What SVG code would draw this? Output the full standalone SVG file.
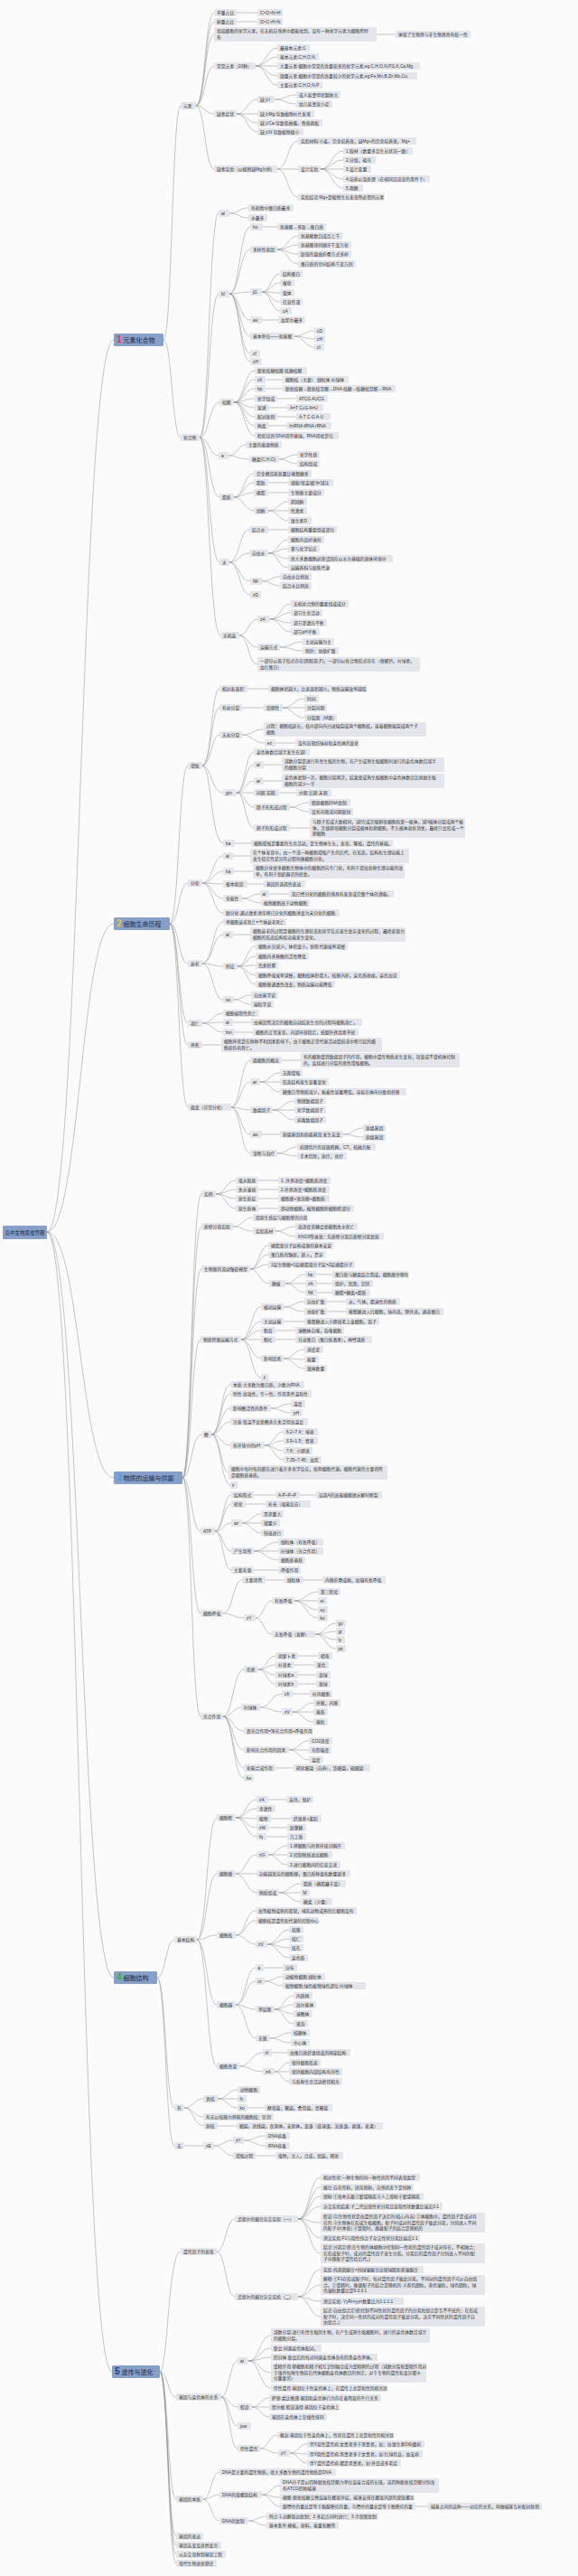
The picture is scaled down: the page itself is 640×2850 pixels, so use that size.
<svg xmlns="http://www.w3.org/2000/svg" width="640" height="2850" viewBox="0 0 640 2850">
<style>
.bg{fill:#fbfbfc}
#conn path{fill:none;stroke:#8e8e8e;stroke-width:0.5}
.nodes rect{fill:#e4e6ec;rx:1.2px}
.nodes text{font-family:"Liberation Sans","Noto Sans CJK SC",sans-serif;font-size:4.8px;fill:#333}
.nodes rect.s{fill:#86a0c8;rx:1.5px}
.nodes text.st{font-size:7px;fill:#1c2b4a}
.nodes text.rt{font-size:5.5px;fill:#1c2b4a}
.num{font-size:10px;font-weight:bold}
</style>
<rect class="bg" x="0" y="0" width="640" height="2850"/>
<g id="conn">
<path d="M52 1363C89 1363 89 376 126 376"/><path d="M52 1363C89 1363 89 1022 126 1022"/><path d="M52 1363C89 1363 89 1635 126 1635"/><path d="M52 1363C89 1363 89 2188 126 2188"/><path d="M52 1363C88 1363 88 2624 124 2624"/>
<path d="M181 376C190.5 376 190.5 117 200 117"/><path d="M181 376C190.5 376 190.5 484 200 484"/>
<path d="M217 117C227 117 227 14 237 14"/><path d="M217 117C227 117 227 24 237 24"/><path d="M217 117C227 117 227 38 237 38"/><path d="M217 117C227 117 227 73 237 73"/><path d="M217 117C227 117 227 126 237 126"/><path d="M217 117C227 117 227 187 237 187"/>
<path d="M262 14H285"/><path d="M262 24H285"/><path d="M417 38H438"/>
<path d="M283 73C295 73 295 53 307 53"/><path d="M283 73C295 73 295 63 307 63"/><path d="M283 73H307"/><path d="M283 73C295 73 295 84 307 84"/><path d="M283 73C295 73 295 94 307 94"/>
<path d="M262 126C273.5 126 273.5 110 285 110"/><path d="M262 126H285"/><path d="M262 126C273.5 126 273.5 136 285 136"/><path d="M262 126C273.5 126 273.5 146 285 146"/>
<path d="M304 110C316 110 316 105 328 105"/><path d="M304 110C316 110 316 115 328 115"/>
<path d="M307 187C318.5 187 318.5 156 330 156"/><path d="M307 187H330"/><path d="M307 187C318.5 187 318.5 218 330 218"/>
<path d="M355 187C367.5 187 367.5 167 380 167"/><path d="M355 187C367.5 187 367.5 177 380 177"/><path d="M355 187H380"/><path d="M355 187C367.5 187 367.5 198 380 198"/><path d="M355 187C367.5 187 367.5 208 380 208"/>
<path d="M221 484C231.5 484 231.5 236 242 236"/><path d="M221 484C231.5 484 231.5 325 242 325"/><path d="M221 484C231.5 484 231.5 445 243 445"/><path d="M221 484C231.5 484 231.5 504 242 504"/><path d="M221 484C231.5 484 231.5 550 243 550"/><path d="M221 484C231.5 484 231.5 622 243 622"/><path d="M221 484C231.5 484 231.5 703 244 703"/>
<path d="M254 236C264.5 236 264.5 230 275 230"/><path d="M254 236C264.5 236 264.5 241 275 241"/>
<path d="M254 325C265.5 325 265.5 251 277 251"/><path d="M254 325C265.5 325 265.5 276 277 276"/><path d="M254 325C265.5 325 265.5 323 277 323"/><path d="M254 325C265.5 325 265.5 354 277 354"/><path d="M254 325C265.5 325 265.5 372 277 372"/><path d="M254 325C265.5 325 265.5 391 277 391"/><path d="M254 325C265.5 325 265.5 400 277 400"/>
<path d="M291 251H307"/>
<path d="M307 276C318.5 276 318.5 261 330 261"/><path d="M307 276C318.5 276 318.5 271 330 271"/><path d="M307 276C318.5 276 318.5 281 330 281"/><path d="M307 276C318.5 276 318.5 292 330 292"/>
<path d="M290 323C300 323 300 303 310 303"/><path d="M290 323C300 323 300 313 310 313"/><path d="M290 323C300 323 300 324 310 324"/><path d="M290 323C300 323 300 334 310 334"/><path d="M290 323C300 323 300 344 310 344"/>
<path d="M290 354H308"/>
<path d="M326 372C337 372 337 366 348 366"/><path d="M326 372C337 372 337 375 348 375"/><path d="M326 372C337 372 337 384 348 384"/>
<path d="M259 445C270.5 445 270.5 410 282 410"/><path d="M259 445C270.5 445 270.5 420 282 420"/><path d="M259 445C270.5 445 270.5 430 282 430"/><path d="M259 445C270.5 445 270.5 441 282 441"/><path d="M259 445C270.5 445 270.5 451 282 451"/><path d="M259 445C270.5 445 270.5 461 282 461"/><path d="M259 445C270.5 445 270.5 471 282 471"/><path d="M259 445C270.5 445 270.5 482 282 482"/>
<path d="M294 420H313"/><path d="M294 430H313"/><path d="M307 441H328"/><path d="M298 451H318"/><path d="M307 461H328"/><path d="M298 471H317"/>
<path d="M253 504C263 504 263 492 272 492"/><path d="M253 504C263 504 263 508 276 508"/>
<path d="M309 508C319 508 319 503 329 503"/><path d="M309 508C319 508 319 513 329 513"/>
<path d="M259 550C270 550 270 524 281 524"/><path d="M259 550C270 550 270 534 281 534"/><path d="M259 550C270 550 270 545 281 545"/><path d="M259 550C270 550 270 565 281 565"/>
<path d="M297 534H319"/><path d="M297 545H319"/>
<path d="M297 565C308 565 308 555 319 555"/><path d="M297 565H319"/><path d="M297 565C308 565 308 576 319 576"/>
<path d="M254 622C265 622 265 586 276 586"/><path d="M254 622C265 622 265 612 276 612"/><path d="M254 622C265 622 265 643 277 643"/><path d="M254 622C265 622 265 658 277 658"/>
<path d="M297 586H319"/>
<path d="M297 612C308 612 308 597 319 597"/><path d="M297 612C308 612 308 607 319 607"/><path d="M297 612C308 612 308 618 319 618"/><path d="M297 612C308 612 308 628 319 628"/>
<path d="M290 643C300 643 300 638 310 638"/><path d="M290 643C300 643 300 648 310 648"/>
<path d="M265 703C275 703 275 685 285 685"/><path d="M265 703C275 703 275 716 285 716"/><path d="M265 703C275 703 275 735 285 735"/>
<path d="M299 685C310.5 685 310.5 668 322 668"/><path d="M299 685C310.5 685 310.5 678 322 678"/><path d="M299 685C310.5 685 310.5 689 322 689"/><path d="M299 685C310.5 685 310.5 699 322 699"/>
<path d="M310 716C322.5 716 322.5 710 335 710"/><path d="M310 716C322.5 716 322.5 720 335 720"/>
<path d="M188 1022C198 1022 198 847 208 847"/><path d="M188 1022C198 1022 198 977 208 977"/><path d="M188 1022C198 1022 198 1066 208 1066"/><path d="M188 1022C198 1022 198 1132 208 1132"/><path d="M188 1022C198 1022 198 1156 208 1156"/><path d="M188 1022C198 1022 198 1225 208 1225"/>
<path d="M224 847C234 847 234 762 243 762"/><path d="M224 847C234 847 234 783 243 783"/><path d="M224 847C234 847 234 813 243 813"/><path d="M224 847C234 847 234 877 247 877"/><path d="M224 847C234 847 234 933 247 933"/>
<path d="M274 762H297"/><path d="M268 783H292"/>
<path d="M313 783C325 783 325 773 337 773"/><path d="M313 783H337"/><path d="M313 783C325 783 325 794 337 794"/>
<path d="M268 813C280 813 280 807 292 807"/><path d="M268 813C280 813 280 822 293 822"/><path d="M305 822H327"/>
<path d="M262 877C271.5 877 271.5 832 281 832"/><path d="M262 877C271.5 877 271.5 846 281 846"/><path d="M262 877C271.5 877 271.5 864 281 864"/><path d="M262 877H281"/><path d="M262 877C271.5 877 271.5 893 281 893"/><path d="M262 877C271.5 877 271.5 916 281 916"/>
<path d="M292 846H312"/><path d="M292 864H312"/><path d="M309 877H328"/>
<path d="M321 893C331.5 893 331.5 888 342 888"/><path d="M321 893C331.5 893 331.5 898 342 898"/><path d="M321 916H343"/><path d="M260 933H278"/>
<path d="M224 977C235.5 977 235.5 947 247 947"/><path d="M224 977C235.5 977 235.5 964 247 964"/><path d="M224 977C235.5 977 235.5 978 247 978"/><path d="M224 977C235.5 977 235.5 994 247 994"/><path d="M224 977C235.5 977 235.5 1010 247 1010"/>
<path d="M258 947H277"/><path d="M259 964H280"/><path d="M274 978H292"/>
<path d="M268 994C278 994 278 989 288 989"/><path d="M268 994C278 994 278 999 289 999"/><path d="M298 989H320"/>
<path d="M224 1066C235.5 1066 235.5 1020 247 1020"/><path d="M224 1066C235.5 1066 235.5 1034 247 1034"/><path d="M224 1066C235.5 1066 235.5 1069 247 1069"/><path d="M224 1066C235.5 1066 235.5 1106 247 1106"/>
<path d="M258 1034H277"/>
<path d="M263 1069C273 1069 273 1047 283 1047"/><path d="M263 1069C273 1069 273 1058 283 1058"/><path d="M263 1069C273 1069 273 1068 283 1068"/><path d="M263 1069C273 1069 273 1079 283 1079"/><path d="M263 1069C273 1069 273 1089 283 1089"/>
<path d="M259 1106C268.5 1106 268.5 1101 278 1101"/><path d="M259 1106C268.5 1106 268.5 1111 278 1111"/>
<path d="M224 1132C235.5 1132 235.5 1121 247 1121"/><path d="M224 1132C235.5 1132 235.5 1131 247 1131"/><path d="M224 1132C235.5 1132 235.5 1142 247 1142"/>
<path d="M258 1131H278"/><path d="M260 1142H280"/><path d="M224 1156H245"/>
<path d="M256 1225C266.5 1225 266.5 1173 277 1173"/><path d="M256 1225C266.5 1225 266.5 1197 277 1197"/><path d="M256 1225C266.5 1225 266.5 1228 277 1228"/><path d="M256 1225C266.5 1225 266.5 1255 277 1255"/><path d="M256 1225C266.5 1225 266.5 1276 277 1276"/>
<path d="M312 1173H333"/>
<path d="M288 1197C299 1197 299 1187 310 1187"/><path d="M288 1197H310"/><path d="M288 1197C299 1197 299 1208 310 1208"/>
<path d="M302 1228C314 1228 314 1218 326 1218"/><path d="M302 1228H326"/><path d="M302 1228C314 1228 314 1239 326 1239"/>
<path d="M290 1255H310"/><path d="M380 1255C391 1255 391 1248 402 1248"/><path d="M380 1255C391 1255 391 1258 402 1258"/>
<path d="M307 1276C318 1276 318 1269 329 1269"/><path d="M307 1276C318 1276 318 1279 329 1279"/>
<path d="M202 1635C212 1635 212 1321 223 1321"/><path d="M202 1635C212 1635 212 1357 223 1357"/><path d="M202 1635C212 1635 212 1404 223 1404"/><path d="M202 1635C212 1635 212 1482 222 1482"/><path d="M202 1635C212 1635 212 1587 223 1587"/><path d="M202 1635C212 1635 212 1694 222 1694"/><path d="M202 1635C212 1635 212 1785 222 1785"/><path d="M202 1635C212 1635 212 1899 222 1899"/>
<path d="M239 1321C250 1321 250 1306 261 1306"/><path d="M239 1321C250 1321 250 1316 261 1316"/><path d="M239 1321C250 1321 250 1326 261 1326"/><path d="M239 1321C250 1321 250 1337 261 1337"/>
<path d="M286 1306H308"/><path d="M286 1316H308"/><path d="M286 1326H308"/><path d="M286 1337H308"/>
<path d="M258 1357C269 1357 269 1347 280 1347"/><path d="M258 1357C269 1357 269 1362 280 1362"/>
<path d="M305 1362C316 1362 316 1357 327 1357"/><path d="M305 1362C316 1362 316 1368 327 1368"/>
<path d="M277 1404C287 1404 287 1378 297 1378"/><path d="M277 1404C287 1404 287 1388 297 1388"/><path d="M277 1404C287 1404 287 1399 297 1399"/><path d="M277 1404C287 1404 287 1420 298 1420"/>
<path d="M316 1420C327 1420 327 1410 338 1410"/><path d="M316 1420H338"/><path d="M316 1420C327 1420 327 1430 338 1430"/>
<path d="M350 1410H368"/><path d="M351 1420H368"/><path d="M351 1430H368"/>
<path d="M267 1482C278 1482 278 1446 289 1446"/><path d="M267 1482C278 1482 278 1462 289 1462"/><path d="M267 1482C278 1482 278 1472 289 1472"/><path d="M267 1482H289"/><path d="M267 1482C278 1482 278 1503 289 1503"/><path d="M267 1482C278 1482 278 1524 289 1524"/>
<path d="M314 1446C325.5 1446 325.5 1440 337 1440"/><path d="M314 1446C325.5 1446 325.5 1451 337 1451"/>
<path d="M362 1440H383"/><path d="M362 1451H383"/><path d="M314 1462H337"/><path d="M305 1472H327"/><path d="M305 1482H327"/>
<path d="M314 1503C325.5 1503 325.5 1493 337 1493"/><path d="M314 1503C325.5 1503 325.5 1504 337 1504"/><path d="M314 1503C325.5 1503 325.5 1514 337 1514"/>
<path d="M234 1587C244.5 1587 244.5 1532 255 1532"/><path d="M234 1587C244.5 1587 244.5 1542 255 1542"/><path d="M234 1587C244.5 1587 244.5 1558 255 1558"/><path d="M234 1587C244.5 1587 244.5 1573 255 1573"/><path d="M234 1587C244.5 1587 244.5 1599 255 1599"/><path d="M234 1587C244.5 1587 244.5 1629 253 1629"/><path d="M234 1587C244.5 1587 244.5 1643 255 1643"/>
<path d="M300 1558C311 1558 311 1553 322 1553"/><path d="M300 1558C311 1558 311 1563 322 1563"/>
<path d="M293 1599C303.5 1599 303.5 1584 314 1584"/><path d="M293 1599C303.5 1599 303.5 1594 314 1594"/><path d="M293 1599C303.5 1599 303.5 1605 314 1605"/><path d="M293 1599C303.5 1599 303.5 1615 314 1615"/>
<path d="M238 1694C247 1694 247 1654 256 1654"/><path d="M238 1694C247 1694 247 1664 256 1664"/><path d="M238 1694C247 1694 247 1685 256 1685"/><path d="M238 1694C247 1694 247 1716 256 1716"/><path d="M238 1694C247 1694 247 1737 256 1737"/>
<path d="M281 1654H305"/><path d="M332 1654H350"/><path d="M272 1664H294"/>
<path d="M268 1685C278.5 1685 278.5 1675 289 1675"/><path d="M268 1685H289"/><path d="M268 1685C278.5 1685 278.5 1696 289 1696"/>
<path d="M281 1716C294.5 1716 294.5 1706 308 1706"/><path d="M281 1716H308"/><path d="M281 1716C294.5 1716 294.5 1726 308 1726"/><path d="M281 1737H308"/>
<path d="M247 1785C258 1785 258 1748 268 1748"/><path d="M247 1785C258 1785 258 1790 270 1790"/>
<path d="M294 1748H315"/><path d="M336 1748H357"/>
<path d="M283 1790C292 1790 292 1771 301 1771"/><path d="M283 1790C292 1790 292 1808 301 1808"/>
<path d="M326 1771C339 1771 339 1761 352 1761"/><path d="M326 1771H352"/><path d="M326 1771C339 1771 339 1781 352 1781"/><path d="M326 1771C339 1771 339 1790 352 1790"/>
<path d="M349 1808C360.5 1808 360.5 1796 372 1796"/><path d="M349 1808C360.5 1808 360.5 1805 372 1805"/><path d="M349 1808C360.5 1808 360.5 1814 372 1814"/><path d="M349 1808C360.5 1808 360.5 1824 372 1824"/>
<path d="M247 1899C258 1899 258 1847 270 1847"/><path d="M247 1899C258 1899 258 1889 267 1889"/><path d="M247 1899C258 1899 258 1915 270 1915"/><path d="M247 1899C258 1899 258 1936 270 1936"/><path d="M247 1899C258 1899 258 1956 270 1956"/><path d="M247 1899C258 1899 258 1967 270 1967"/>
<path d="M286 1847C295.5 1847 295.5 1832 305 1832"/><path d="M286 1847C295.5 1847 295.5 1842 305 1842"/><path d="M286 1847C295.5 1847 295.5 1853 305 1853"/><path d="M286 1847C295.5 1847 295.5 1863 305 1863"/>
<path d="M330 1832H352"/><path d="M326 1842H348"/><path d="M330 1853H350"/><path d="M330 1863H350"/>
<path d="M288 1889C300 1889 300 1874 312 1874"/><path d="M288 1889C300 1889 300 1894 312 1894"/><path d="M324 1874H343"/>
<path d="M324 1894C335.5 1894 335.5 1884 347 1884"/><path d="M324 1894H347"/><path d="M324 1894C335.5 1894 335.5 1905 347 1905"/>
<path d="M320 1936C331 1936 331 1926 342 1926"/><path d="M320 1936H342"/><path d="M320 1936C331 1936 331 1947 342 1947"/><path d="M305 1956H325"/>
<path d="M174 2188C183.5 2188 183.5 2146 193 2146"/><path d="M174 2188C183.5 2188 183.5 2332 193 2332"/><path d="M174 2188C183.5 2188 183.5 2374 193 2374"/>
<path d="M218 2146C229 2146 229 2011 240 2011"/><path d="M218 2146C229 2146 229 2073 240 2073"/><path d="M218 2146C229 2146 229 2141 240 2141"/><path d="M218 2146C229 2146 229 2218 240 2218"/><path d="M218 2146C229 2146 229 2286 240 2286"/>
<path d="M261 2011C272.5 2011 272.5 1991 284 1991"/><path d="M261 2011C272.5 2011 272.5 2001 284 2001"/><path d="M261 2011C272.5 2011 272.5 2012 284 2012"/><path d="M261 2011C272.5 2011 272.5 2022 284 2022"/><path d="M261 2011C272.5 2011 272.5 2032 284 2032"/>
<path d="M297 1991H317"/><path d="M300 2012H322"/><path d="M297 2022H318"/><path d="M295 2032H318"/>
<path d="M261 2073C272.5 2073 272.5 2052 284 2052"/><path d="M261 2073H284"/><path d="M261 2073C272.5 2073 272.5 2094 284 2094"/>
<path d="M297 2052C307.5 2052 307.5 2042 318 2042"/><path d="M297 2052H318"/><path d="M297 2052C307.5 2052 307.5 2063 318 2063"/>
<path d="M309 2094C321 2094 321 2084 333 2084"/><path d="M309 2094H333"/><path d="M309 2094C321 2094 321 2104 333 2104"/>
<path d="M261 2141C272 2141 272 2114 283 2114"/><path d="M261 2141C272 2141 272 2125 283 2125"/><path d="M261 2141C272 2141 272 2151 283 2151"/>
<path d="M296 2151C308 2151 308 2135 320 2135"/><path d="M296 2151C308 2151 308 2145 320 2145"/><path d="M296 2151C308 2151 308 2155 320 2155"/><path d="M296 2151C308 2151 308 2166 320 2166"/>
<path d="M261 2218C272 2218 272 2177 283 2177"/><path d="M261 2218C272 2218 272 2192 283 2192"/><path d="M261 2218C272 2218 272 2223 283 2223"/><path d="M261 2218C272 2218 272 2255 283 2255"/>
<path d="M292 2177H313"/>
<path d="M293 2192C303 2192 303 2187 313 2187"/><path d="M293 2192C303 2192 303 2197 313 2197"/>
<path d="M304 2223C314.5 2223 314.5 2208 325 2208"/><path d="M304 2223C314.5 2223 314.5 2218 325 2218"/><path d="M304 2223C314.5 2223 314.5 2228 325 2228"/><path d="M304 2223C314.5 2223 314.5 2239 325 2239"/>
<path d="M299 2255C310.5 2255 310.5 2249 322 2249"/><path d="M299 2255C310.5 2255 310.5 2260 322 2260"/>
<path d="M265 2286C278 2286 278 2271 291 2271"/><path d="M265 2286C278 2286 278 2292 291 2292"/><path d="M301 2271H318"/>
<path d="M304 2292C312 2292 312 2282 320 2282"/><path d="M304 2292H320"/><path d="M304 2292C312 2292 312 2303 320 2303"/>
<path d="M204 2332C214.5 2332 214.5 2322 225 2322"/><path d="M204 2332C214.5 2332 214.5 2342 225 2342"/><path d="M204 2332C214.5 2332 214.5 2352 225 2352"/>
<path d="M241 2322C252 2322 252 2312 263 2312"/><path d="M241 2322H263"/><path d="M241 2322C252 2322 252 2332 263 2332"/>
<path d="M274 2332H293"/><path d="M241 2352H262"/><path d="M204 2374H225"/>
<path d="M237 2374C247.5 2374 247.5 2368 258 2368"/><path d="M237 2374C247.5 2374 247.5 2385 258 2385"/>
<path d="M270 2368C282 2368 282 2363 294 2363"/><path d="M270 2368C282 2368 282 2374 294 2374"/><path d="M283 2385H305"/>
<path d="M177 2624C186 2624 186 2491 200 2491"/><path d="M177 2624C186 2624 186 2652 195 2652"/><path d="M177 2624C186 2624 186 2765 195 2765"/><path d="M177 2624C186 2624 186 2806 195 2806"/><path d="M177 2624C186 2624 186 2816 195 2816"/><path d="M177 2624C186 2624 186 2826 195 2826"/><path d="M177 2624C186 2624 186 2836 195 2836"/>
<path d="M240 2491C250 2491 250 2455 260 2455"/><path d="M240 2491C250 2491 250 2541 260 2541"/>
<path d="M330 2455C342.5 2455 342.5 2409 355 2409"/><path d="M330 2455C342.5 2455 342.5 2420 355 2420"/><path d="M330 2455C342.5 2455 342.5 2430 355 2430"/><path d="M330 2455C342.5 2455 342.5 2441 355 2441"/><path d="M330 2455C342.5 2455 342.5 2459 355 2459"/><path d="M330 2455C342.5 2455 342.5 2476 355 2476"/><path d="M330 2455C342.5 2455 342.5 2493 355 2493"/>
<path d="M330 2541C342.5 2541 342.5 2511 355 2511"/><path d="M330 2541C342.5 2541 342.5 2528 355 2528"/><path d="M330 2541C342.5 2541 342.5 2546 355 2546"/><path d="M330 2541C342.5 2541 342.5 2563 355 2563"/>
<path d="M245 2652C254 2652 254 2612 263 2612"/><path d="M245 2652C254 2652 254 2663 263 2663"/><path d="M245 2652C254 2652 254 2684 263 2684"/><path d="M245 2652C254 2652 254 2709 263 2709"/>
<path d="M275 2612C287.5 2612 287.5 2584 300 2584"/><path d="M275 2612C287.5 2612 287.5 2598 300 2598"/><path d="M275 2612C287.5 2612 287.5 2608 300 2608"/><path d="M275 2612C287.5 2612 287.5 2625 300 2625"/><path d="M275 2612C287.5 2612 287.5 2642 300 2642"/>
<path d="M279 2663C288.5 2663 288.5 2653 298 2653"/><path d="M279 2663H298"/><path d="M279 2663C288.5 2663 288.5 2674 298 2674"/>
<path d="M288 2709C297.5 2709 297.5 2694 307 2694"/><path d="M288 2709C297.5 2709 297.5 2714 308 2714"/>
<path d="M321 2714C330.5 2714 330.5 2704 340 2704"/><path d="M321 2714C330.5 2714 330.5 2715 340 2715"/><path d="M321 2714C330.5 2714 330.5 2725 340 2725"/>
<path d="M225 2765C234 2765 234 2735 243 2735"/><path d="M225 2765C234 2765 234 2760 243 2760"/><path d="M225 2765C234 2765 234 2789 243 2789"/>
<path d="M290 2760C300 2760 300 2750 310 2750"/><path d="M290 2760C300 2760 300 2763 310 2763"/><path d="M290 2760C300 2760 300 2773 310 2773"/>
<path d="M460 2773H474"/>
<path d="M275 2789C285 2789 285 2784 295 2784"/><path d="M275 2789C285 2789 285 2794 295 2794"/>
</g>
<g class="nodes">
<g id="root"><rect class="s" x="3" y="1356" width="49" height="15"/><text class="rt" x="5.5" y="1365.5">高中生物思维导图</text></g>
<g id="sec1"><rect class="s" x="126" y="369" width="55" height="14"/><text class="st" x="129" y="379.3"><tspan class="num" fill="#e23b3b">1</tspan><tspan dx="2">元素化合物</tspan></text></g>
<g id="sec2"><rect class="s" x="126" y="1015" width="62" height="14"/><text class="st" x="129" y="1025.3"><tspan class="num" fill="#f2c230">2</tspan><tspan dx="2">细胞生命历程</tspan></text></g>
<g id="sec3"><rect class="s" x="126" y="1628" width="76" height="14"/><text class="st" x="129" y="1638.3"><tspan class="num" fill="#37a7e8">3</tspan><tspan dx="2">物质的运输与供能</tspan></text></g>
<g id="sec4"><rect class="s" x="126" y="2181" width="48" height="14"/><text class="st" x="129" y="2191.3"><tspan class="num" fill="#34b34a">4</tspan><tspan dx="2">细胞结构</tspan></text></g>
<g id="sec5"><rect class="s" x="124" y="2617" width="53" height="14"/><text class="st" x="127" y="2627.3"><tspan class="num" fill="#1f3f7a">5</tspan><tspan dx="2">遗传与进化</tspan></text></g>

<g id="a1"><rect x="200" y="113" width="17" height="8"/><text x="203" y="118.7">元素</text></g>
<g id="a11"><rect x="237" y="10" width="25" height="8"/><text x="240" y="15.7">干重占比</text></g>
<g id="a11c"><rect x="285" y="10" width="28" height="8"/><text x="288" y="15.7">C&gt;O&gt;N&gt;H</text></g>
<g id="a12"><rect x="237" y="20" width="25" height="8"/><text x="240" y="25.7">鲜重占比</text></g>
<g id="a12c"><rect x="285" y="20" width="28" height="8"/><text x="288" y="25.7">O&gt;C&gt;H&gt;N</text></g>
<g id="a13"><rect x="237" y="30" width="180" height="16"/><text x="240" y="36.3">组成细胞的化学元素，在无机自然界中都能找到，没有一种化学元素为细胞所特<tspan x="240" y="42.8">有</tspan></text></g>
<g id="a13c"><rect x="438" y="34" width="83" height="8"/><text x="441" y="39.7">体现了生物界与非生物界具有统一性</text></g>
<g id="a14"><rect x="237" y="69" width="46" height="8"/><text x="240" y="74.7">常见元素（20种）</text></g>
<g id="a141"><rect x="307" y="49" width="36" height="8"/><text x="310" y="54.7">最基本元素:C</text></g>
<g id="a142"><rect x="307" y="59" width="46" height="8"/><text x="310" y="64.7">基本元素:C,H,O,N</text></g>
<g id="a143"><rect x="307" y="69" width="158" height="8"/><text x="310" y="74.7">大量元素:细胞中常见的含量较多的化学元素,eg:C,H,O,N,P,S,K,Ca,Mg.</text></g>
<g id="a144"><rect x="307" y="80" width="155" height="8"/><text x="310" y="85.7">微量元素:细胞中常见的含量较少的化学元素,eg:Fe,Mn,B,Zn,Mo,Cu.</text></g>
<g id="a145"><rect x="307" y="90" width="50" height="8"/><text x="310" y="95.7">主要元素:C,H,O,N,P</text></g>
<g id="a15"><rect x="237" y="122" width="25" height="8"/><text x="240" y="127.7">缺素症状</text></g>
<g id="a151"><rect x="285" y="106" width="19" height="8"/><text x="288" y="111.7">缺少I</text></g>
<g id="a1511"><rect x="328" y="101" width="49" height="8"/><text x="331" y="106.7">成人易患甲状腺肿大</text></g>
<g id="a1512"><rect x="328" y="111" width="40" height="8"/><text x="331" y="116.7">幼儿易患呆小症</text></g>
<g id="a152"><rect x="285" y="122" width="63" height="8"/><text x="288" y="127.7">缺少Mg:导致植物叶片发黄</text></g>
<g id="a153"><rect x="285" y="132" width="72" height="8"/><text x="288" y="137.7">缺少Ca:导致肌抽搐，骨质疏松</text></g>
<g id="a154"><rect x="285" y="142" width="51" height="8"/><text x="288" y="147.7">缺少N:导致植物矮小</text></g>
<g id="a16"><rect x="237" y="183" width="70" height="8"/><text x="240" y="188.7">缺素实验（以植物缺Mg为例）</text></g>
<g id="a161"><rect x="330" y="152" width="131" height="8"/><text x="333" y="157.7">实验材料:小麦，完全培养液，缺Mg+的完全培养液，Mg+</text></g>
<g id="a162"><rect x="330" y="183" width="25" height="8"/><text x="333" y="188.7">设计实验</text></g>
<g id="a1621"><rect x="380" y="163" width="77" height="8"/><text x="383" y="168.7">1.取材（数量多且生长状况一致）</text></g>
<g id="a1622"><rect x="380" y="173" width="36" height="8"/><text x="383" y="178.7">2.分组，编号</text></g>
<g id="a1623"><rect x="380" y="183" width="31" height="8"/><text x="383" y="188.7">3.设计变量</text></g>
<g id="a1624"><rect x="380" y="194" width="96" height="8"/><text x="383" y="199.7">4.培养以及处理（在相同且适宜的条件下）</text></g>
<g id="a1625"><rect x="380" y="204" width="22" height="8"/><text x="383" y="209.7">5.观察</text></g>
<g id="a163"><rect x="330" y="214" width="95" height="8"/><text x="333" y="219.7">实验结论:Mg+是植物生长发育所必需的元素</text></g>

<g id="b0"><rect x="200" y="480" width="21" height="8"/><text x="203" y="485.7">化合物</text></g>
<g id="b1"><rect x="242" y="232" width="12" height="8"/><text x="245" y="237.7">al</text></g>
<g id="b11"><rect x="275" y="226" width="50" height="8"/><text x="278" y="231.7">有机物中蛋白质最多</text></g>
<g id="b12"><rect x="275" y="237" width="21" height="8"/><text x="278" y="242.7">水最多</text></g>
<g id="b2"><rect x="242" y="321" width="12" height="8"/><text x="245" y="326.7">bl</text></g>
<g id="b21"><rect x="277" y="247" width="14" height="8"/><text x="280" y="252.7">ho</text></g>
<g id="b211"><rect x="307" y="247" width="54" height="8"/><text x="310" y="252.7">氨基酸→多肽→蛋白质</text></g>
<g id="b22"><rect x="277" y="272" width="30" height="8"/><text x="280" y="277.7">多样性原因</text></g>
<g id="b221"><rect x="330" y="257" width="49" height="8"/><text x="333" y="262.7">氨基酸数目成百上千</text></g>
<g id="b222"><rect x="330" y="267" width="59" height="8"/><text x="333" y="272.7">氨基酸排列顺序千变万化</text></g>
<g id="b223"><rect x="330" y="277" width="59" height="8"/><text x="333" y="282.7">肽链的盘曲折叠方式多样</text></g>
<g id="b224"><rect x="330" y="288" width="64" height="8"/><text x="333" y="293.7">蛋白质的空间结构千差万别</text></g>
<g id="b23"><rect x="277" y="319" width="13" height="8"/><text x="280" y="324.7">jG</text></g>
<g id="b231"><rect x="310" y="299" width="25" height="8"/><text x="313" y="304.7">结构蛋白</text></g>
<g id="b232"><rect x="310" y="309" width="16" height="8"/><text x="313" y="314.7">催化</text></g>
<g id="b233"><rect x="310" y="320" width="16" height="8"/><text x="313" y="325.7">载体</text></g>
<g id="b234"><rect x="310" y="330" width="25" height="8"/><text x="313" y="335.7">信息传递</text></g>
<g id="b235"><rect x="310" y="340" width="13" height="8"/><text x="313" y="345.7">cA</text></g>
<g id="b24"><rect x="277" y="350" width="13" height="8"/><text x="280" y="355.7">ao</text></g>
<g id="b241"><rect x="308" y="350" width="30" height="8"/><text x="311" y="355.7">血浆中最多</text></g>
<g id="b25"><rect x="277" y="368" width="49" height="8"/><text x="280" y="373.7">基本单位——氨基酸</text></g>
<g id="b251"><rect x="348" y="362" width="12" height="8"/><text x="351" y="367.7">cD</text></g>
<g id="b252"><rect x="348" y="371" width="12" height="8"/><text x="351" y="376.7">cH</text></g>
<g id="b253"><rect x="348" y="380" width="11" height="8"/><text x="351" y="385.7">cI</text></g>
<g id="b26"><rect x="277" y="387" width="11" height="8"/><text x="280" y="392.7">cf</text></g>
<g id="b27"><rect x="277" y="396" width="13" height="8"/><text x="280" y="401.7">cH</text></g>
<g id="b3"><rect x="243" y="441" width="16" height="8"/><text x="246" y="446.7">核酸</text></g>
<g id="b31"><rect x="282" y="406" width="58" height="8"/><text x="285" y="411.7">脱氧核糖核酸 核糖核酸</text></g>
<g id="b32"><rect x="282" y="416" width="12" height="8"/><text x="285" y="421.7">cK</text></g>
<g id="b321"><rect x="313" y="416" width="73" height="8"/><text x="316" y="421.7">细胞核（主要） 线粒体 叶绿体</text></g>
<g id="b33"><rect x="282" y="426" width="12" height="8"/><text x="285" y="431.7">bp</text></g>
<g id="b331"><rect x="313" y="426" width="125" height="8"/><text x="316" y="431.7">脱氧核糖→脱氧核苷酸→DNA 核糖→核糖核苷酸→RNA</text></g>
<g id="b34"><rect x="282" y="437" width="25" height="8"/><text x="285" y="442.7">化学组成</text></g>
<g id="b341"><rect x="328" y="437" width="35" height="8"/><text x="331" y="442.7">ATCG AUCG</text></g>
<g id="b35"><rect x="282" y="447" width="16" height="8"/><text x="285" y="452.7">氢键</text></g>
<g id="b351"><rect x="318" y="447" width="40" height="8"/><text x="321" y="452.7">A=T C≡G A=U</text></g>
<g id="b36"><rect x="282" y="457" width="25" height="8"/><text x="285" y="462.7">配对原则</text></g>
<g id="b361"><rect x="328" y="457" width="38" height="8"/><text x="331" y="462.7">A-T C-G A-U</text></g>
<g id="b37"><rect x="282" y="467" width="16" height="8"/><text x="285" y="472.7">种类</text></g>
<g id="b371"><rect x="317" y="467" width="50" height="8"/><text x="320" y="472.7">/mRNA tRNA rRNA</text></g>
<g id="b38"><rect x="282" y="478" width="93" height="8"/><text x="285" y="483.7">检验试剂:DNA用甲基绿，RNA用吡罗红</text></g>
<g id="b4"><rect x="242" y="500" width="11" height="8"/><text x="245" y="505.7">a</text></g>
<g id="b41"><rect x="272" y="488" width="40" height="8"/><text x="275" y="493.7">主要的能源物质</text></g>
<g id="b42"><rect x="276" y="504" width="33" height="8"/><text x="279" y="509.7">糖类(C,H,O)</text></g>
<g id="b421"><rect x="329" y="499" width="25" height="8"/><text x="332" y="504.7">化学性质</text></g>
<g id="b422"><rect x="329" y="509" width="25" height="8"/><text x="332" y="514.7">结构组成</text></g>
<g id="b5"><rect x="243" y="546" width="16" height="8"/><text x="246" y="551.7">脂质</text></g>
<g id="b51"><rect x="281" y="520" width="64" height="8"/><text x="284" y="525.7">完全燃烧耗氧量比葡萄糖多</text></g>
<g id="b52"><rect x="281" y="530" width="16" height="8"/><text x="284" y="535.7">脂肪</text></g>
<g id="b521"><rect x="319" y="530" width="50" height="8"/><text x="322" y="535.7">储能/保温/缓冲/减压</text></g>
<g id="b53"><rect x="281" y="541" width="16" height="8"/><text x="284" y="546.7">磷脂</text></g>
<g id="b531"><rect x="319" y="541" width="40" height="8"/><text x="322" y="546.7">生物膜主要成分</text></g>
<g id="b54"><rect x="281" y="561" width="16" height="8"/><text x="284" y="566.7">固醇</text></g>
<g id="b541"><rect x="319" y="551" width="21" height="8"/><text x="322" y="556.7">胆固醇</text></g>
<g id="b542"><rect x="319" y="561" width="21" height="8"/><text x="322" y="566.7">性激素</text></g>
<g id="b543"><rect x="319" y="572" width="26" height="8"/><text x="322" y="577.7">维生素D</text></g>
<g id="b6"><rect x="243" y="618" width="11" height="8"/><text x="246" y="623.7">水</text></g>
<g id="b61"><rect x="276" y="582" width="21" height="8"/><text x="279" y="587.7">结合水</text></g>
<g id="b611"><rect x="319" y="582" width="54" height="8"/><text x="322" y="587.7">细胞结构重要组成部分</text></g>
<g id="b62"><rect x="276" y="608" width="21" height="8"/><text x="279" y="613.7">自由水</text></g>
<g id="b621"><rect x="319" y="593" width="40" height="8"/><text x="322" y="598.7">细胞内良好溶剂</text></g>
<g id="b622"><rect x="319" y="603" width="35" height="8"/><text x="322" y="608.7">参与化学反应</text></g>
<g id="b623"><rect x="319" y="614" width="116" height="8"/><text x="322" y="619.7">绝大多数细胞必须浸润在以水为基础的液体环境中</text></g>
<g id="b624"><rect x="319" y="624" width="45" height="8"/><text x="322" y="629.7">运输养料与新陈代谢</text></g>
<g id="b63"><rect x="277" y="639" width="13" height="8"/><text x="280" y="644.7">fW</text></g>
<g id="b631"><rect x="310" y="634" width="35" height="8"/><text x="313" y="639.7">自由水比例高</text></g>
<g id="b632"><rect x="310" y="644" width="35" height="8"/><text x="313" y="649.7">结合水比例高</text></g>
<g id="b64"><rect x="277" y="654" width="12" height="8"/><text x="280" y="659.7">zD</text></g>
<g id="b7"><rect x="244" y="699" width="21" height="8"/><text x="247" y="704.7">无机盐</text></g>
<g id="b71"><rect x="285" y="681" width="14" height="8"/><text x="288" y="686.7">zA</text></g>
<g id="b711"><rect x="322" y="664" width="64" height="8"/><text x="325" y="669.7">无机化合物的重要组成成分</text></g>
<g id="b712"><rect x="322" y="674" width="35" height="8"/><text x="325" y="679.7">调节生命活动</text></g>
<g id="b713"><rect x="322" y="685" width="40" height="8"/><text x="325" y="690.7">调节渗透压平衡</text></g>
<g id="b714"><rect x="322" y="695" width="32" height="8"/><text x="325" y="700.7">调节pH平衡</text></g>
<g id="b72"><rect x="285" y="712" width="25" height="8"/><text x="288" y="717.7">运输方式</text></g>
<g id="b721"><rect x="335" y="706" width="35" height="8"/><text x="338" y="711.7">主动运输为主</text></g>
<g id="b722"><rect x="335" y="716" width="40" height="8"/><text x="338" y="721.7">例外：协助扩散</text></g>
<g id="b73"><rect x="285" y="727" width="180" height="16"/><text x="288" y="733.3">一部分以离子形式存在(阴阳离子)，一部分以化合物形式存在（骨酸钙，叶绿素，<tspan x="288" y="739.8">血红蛋白）</tspan></text></g>

<g id="c1"><rect x="208" y="843" width="16" height="8"/><text x="211" y="848.7">增殖</text></g>
<g id="c11"><rect x="243" y="758" width="31" height="8"/><text x="246" y="763.7">相对表面积</text></g>
<g id="c111"><rect x="297" y="758" width="109" height="8"/><text x="300" y="763.7">细胞体积越大，比表面积越小，物质运输效率越低</text></g>
<g id="c12"><rect x="243" y="779" width="25" height="8"/><text x="246" y="784.7">有丝分裂</text></g>
<g id="c121"><rect x="292" y="779" width="21" height="8"/><text x="295" y="784.7">周期性</text></g>
<g id="c1211"><rect x="337" y="769" width="16" height="8"/><text x="340" y="774.7">时间</text></g>
<g id="c1212"><rect x="337" y="779" width="25" height="8"/><text x="340" y="784.7">分裂间期</text></g>
<g id="c1213"><rect x="337" y="790" width="36" height="8"/><text x="340" y="795.7">分裂期（M期）</text></g>
<g id="c13"><rect x="243" y="809" width="25" height="8"/><text x="246" y="814.7">无丝分裂</text></g>
<g id="c131"><rect x="292" y="799" width="180" height="16"/><text x="295" y="805.3">过程：细胞核延长，核中部向内凹进缢裂成两个细胞核，接着细胞缢裂成两个子<tspan x="295" y="811.8">细胞</tspan></text></g>
<g id="c132"><rect x="293" y="818" width="12" height="8"/><text x="296" y="823.7">ez</text></g>
<g id="c1321"><rect x="327" y="818" width="70" height="8"/><text x="330" y="823.7">没有出现纺锤丝和染色体的变化</text></g>
<g id="c14"><rect x="247" y="873" width="15" height="8"/><text x="250" y="878.7">gm</text></g>
<g id="c141"><rect x="281" y="828" width="62" height="8"/><text x="284" y="833.7">染色体数目减半发生在减I</text></g>
<g id="c142"><rect x="281" y="842" width="11" height="8"/><text x="284" y="847.7">al</text></g>
<g id="c1421"><rect x="312" y="838" width="180" height="16"/><text x="315" y="844.3">减数分裂是进行有性生殖的生物，在产生成熟生殖细胞时进行的染色体数目减半<tspan x="315" y="850.8">的细胞分裂</tspan></text></g>
<g id="c143"><rect x="281" y="860" width="11" height="8"/><text x="284" y="865.7">ar</text></g>
<g id="c1431"><rect x="312" y="856" width="180" height="16"/><text x="315" y="862.3">染色体复制一次，细胞分裂两次，结果使成熟生殖细胞中染色体数目比原始生殖<tspan x="315" y="868.8">细胞的减少一半</tspan></text></g>
<g id="c144"><rect x="281" y="873" width="28" height="8"/><text x="284" y="878.7">间期 前期</text></g>
<g id="c1441"><rect x="328" y="873" width="39" height="8"/><text x="331" y="878.7">中期 后期 末期</text></g>
<g id="c145"><rect x="281" y="889" width="40" height="8"/><text x="284" y="894.7">精子的形成过程</text></g>
<g id="c1451"><rect x="342" y="884" width="46" height="8"/><text x="345" y="889.7">精原细胞DNA复制</text></g>
<g id="c1452"><rect x="342" y="894" width="49" height="8"/><text x="345" y="899.7">没有间期或间期很短</text></g>
<g id="c146"><rect x="281" y="912" width="40" height="8"/><text x="284" y="917.7">卵子的形成过程</text></g>
<g id="c1461"><rect x="343" y="905" width="172" height="22"/><text x="346" y="911.3">与精子形成大致相同，减I完成次级卵母细胞和第一极体，减II极体分裂成两个极<tspan x="346" y="917.8">体，次级卵母细胞分裂成极体和卵细胞，不久极体退化消失，最终只会形成一个</tspan><tspan x="346" y="924.3">卵细胞</tspan></text></g>
<g id="c15"><rect x="247" y="929" width="13" height="8"/><text x="250" y="934.7">ba</text></g>
<g id="c151"><rect x="278" y="929" width="157" height="8"/><text x="281" y="934.7">细胞增殖是重要的生命活动，是生物体生长，发育，繁殖，遗传的基础。</text></g>
<g id="c2"><rect x="208" y="973" width="16" height="8"/><text x="211" y="978.7">分化</text></g>
<g id="c21"><rect x="247" y="943" width="11" height="8"/><text x="250" y="948.7">al</text></g>
<g id="c211"><rect x="277" y="939" width="176" height="16"/><text x="280" y="945.3">在个体发育中，由一个或一种细胞增殖产生的后代，在形态，结构和生理功能上<tspan x="280" y="951.8">发生稳定性差异的过程叫做细胞分化。</tspan></text></g>
<g id="c22"><rect x="247" y="960" width="12" height="8"/><text x="250" y="965.7">ba</text></g>
<g id="c221"><rect x="280" y="956" width="168" height="16"/><text x="283" y="962.3">细胞分化使多细胞生物体中的细胞趋向专门化，有利于提高各种生理功能的效<tspan x="283" y="968.8">率，有利于组织器官的修复。</tspan></text></g>
<g id="c23"><rect x="247" y="974" width="27" height="8"/><text x="250" y="979.7">根本原因</text></g>
<g id="c231"><rect x="292" y="974" width="46" height="8"/><text x="295" y="979.7">基因的选择性表达</text></g>
<g id="c24"><rect x="247" y="990" width="21" height="8"/><text x="250" y="995.7">全能性</text></g>
<g id="c241"><rect x="288" y="985" width="10" height="8"/><text x="290.5" y="990.7">al</text></g>
<g id="c2411"><rect x="320" y="985" width="116" height="8"/><text x="323" y="990.7">指已经分化的细胞仍然具有发育成完整个体的潜能。</text></g>
<g id="c242"><rect x="289" y="995" width="54" height="8"/><text x="292" y="1000.7">植物细胞高于动物细胞</text></g>
<g id="c25"><rect x="247" y="1006" width="129" height="8"/><text x="250" y="1011.7">脱分化:通过激素诱导将已分化的细胞诱变为未分化的细胞</text></g>
<g id="c3"><rect x="208" y="1062" width="16" height="8"/><text x="211" y="1067.7">衰老</text></g>
<g id="c31"><rect x="247" y="1016" width="70" height="8"/><text x="250" y="1021.7">单细胞衰老死亡=个体衰老死亡</text></g>
<g id="c32"><rect x="247" y="1030" width="11" height="8"/><text x="250" y="1035.7">al</text></g>
<g id="c321"><rect x="277" y="1026" width="172" height="16"/><text x="280" y="1032.3">细胞衰老的过程是细胞的生理状态和化学反应发生复杂变化的过程，最终表现为<tspan x="280" y="1038.8">细胞的形态结构和功能发生变化。</tspan></text></g>
<g id="c33"><rect x="247" y="1065" width="16" height="8"/><text x="250" y="1070.7">特征</text></g>
<g id="c331"><rect x="283" y="1043" width="102" height="8"/><text x="286" y="1048.7">细胞水分减少，体积变小，新陈代谢速率减慢</text></g>
<g id="c332"><rect x="283" y="1054" width="59" height="8"/><text x="286" y="1059.7">细胞内多种酶的活性降低</text></g>
<g id="c333"><rect x="283" y="1064" width="25" height="8"/><text x="286" y="1069.7">色素积累</text></g>
<g id="c334"><rect x="283" y="1075" width="160" height="8"/><text x="286" y="1080.7">细胞呼吸速率减慢，细胞核体积增大，核膜内折，染色质收缩，染色加深</text></g>
<g id="c335"><rect x="283" y="1085" width="88" height="8"/><text x="286" y="1090.7">细胞膜通透性改变，物质运输功能降低</text></g>
<g id="c34"><rect x="247" y="1102" width="12" height="8"/><text x="250" y="1107.7">so</text></g>
<g id="c341"><rect x="278" y="1097" width="30" height="8"/><text x="281" y="1102.7">自由基学说</text></g>
<g id="c342"><rect x="278" y="1107" width="25" height="8"/><text x="281" y="1112.7">端粒学说</text></g>
<g id="c4"><rect x="208" y="1128" width="16" height="8"/><text x="211" y="1133.7">凋亡</text></g>
<g id="c41"><rect x="247" y="1117" width="40" height="8"/><text x="250" y="1122.7">细胞编程性死亡</text></g>
<g id="c42"><rect x="247" y="1127" width="11" height="8"/><text x="250" y="1132.7">al</text></g>
<g id="c421"><rect x="278" y="1127" width="123" height="8"/><text x="281" y="1132.7">由基因所决定的细胞自动结束生命的过程叫细胞凋亡。</text></g>
<g id="c43"><rect x="247" y="1138" width="13" height="8"/><text x="250" y="1143.7">bm</text></g>
<g id="c431"><rect x="280" y="1138" width="117" height="8"/><text x="283" y="1143.7">细胞的正常发育，内部环境稳定，抵御外界因素干扰</text></g>
<g id="c5"><rect x="208" y="1152" width="16" height="8"/><text x="211" y="1157.7">坏死</text></g>
<g id="c51"><rect x="245" y="1148" width="178" height="16"/><text x="248" y="1154.3">细胞坏死是在种种不利因素影响下，由于细胞正常代谢活动受损或中断引起的细<tspan x="248" y="1160.8">胞损伤和死亡。</tspan></text></g>
<g id="c6"><rect x="208" y="1221" width="48" height="8"/><text x="211" y="1226.7">癌变（异常分化）</text></g>
<g id="c61"><rect x="277" y="1169" width="35" height="8"/><text x="280" y="1174.7">癌细胞的概念</text></g>
<g id="c611"><rect x="333" y="1165" width="176" height="16"/><text x="336" y="1171.3">有的细胞受到致癌因子的作用，细胞中遗传物质发生变化，就变成不受机体控制<tspan x="336" y="1177.8">的，连续进行分裂的恶性增殖细胞。</tspan></text></g>
<g id="c62"><rect x="277" y="1193" width="11" height="8"/><text x="280" y="1198.7">ar</text></g>
<g id="c621"><rect x="310" y="1183" width="25" height="8"/><text x="313" y="1188.7">无限增殖</text></g>
<g id="c622"><rect x="310" y="1193" width="54" height="8"/><text x="313" y="1198.7">形态结构发生显著变化</text></g>
<g id="c623"><rect x="310" y="1204" width="140" height="8"/><text x="313" y="1209.7">糖蛋白等物质减少，黏着性显著降低，容易在体内分散和转移</text></g>
<g id="c63"><rect x="277" y="1224" width="25" height="8"/><text x="280" y="1229.7">致癌因子</text></g>
<g id="c631"><rect x="326" y="1214" width="35" height="8"/><text x="329" y="1219.7">物理致癌因子</text></g>
<g id="c632"><rect x="326" y="1224" width="35" height="8"/><text x="329" y="1229.7">化学致癌因子</text></g>
<g id="c633"><rect x="326" y="1235" width="35" height="8"/><text x="329" y="1240.7">病毒致癌因子</text></g>
<g id="c64"><rect x="277" y="1251" width="13" height="8"/><text x="280" y="1256.7">ao</text></g>
<g id="c641"><rect x="310" y="1251" width="70" height="8"/><text x="313" y="1256.7">原癌基因和抑癌基因 发生突变</text></g>
<g id="c6411"><rect x="402" y="1244" width="25" height="8"/><text x="405" y="1249.7">原癌基因</text></g>
<g id="c6412"><rect x="402" y="1254" width="25" height="8"/><text x="405" y="1259.7">抑癌基因</text></g>
<g id="c65"><rect x="277" y="1272" width="30" height="8"/><text x="280" y="1277.7">诊断与治疗</text></g>
<g id="c651"><rect x="329" y="1265" width="87" height="8"/><text x="332" y="1270.7">病理切片的显微观察，CT，核磁共振</text></g>
<g id="c652"><rect x="329" y="1275" width="55" height="8"/><text x="332" y="1280.7">手术切除，放疗，化疗</text></g>

<g id="d1"><rect x="223" y="1317" width="16" height="8"/><text x="226" y="1322.7">实例</text></g>
<g id="d11"><rect x="261" y="1302" width="25" height="8"/><text x="264" y="1307.7">吸水膨胀</text></g>
<g id="d111"><rect x="308" y="1302" width="58" height="8"/><text x="311" y="1307.7">1. 外界浓度&lt;细胞质浓度</text></g>
<g id="d12"><rect x="261" y="1312" width="25" height="8"/><text x="264" y="1317.7">失水皱缩</text></g>
<g id="d121"><rect x="308" y="1312" width="57" height="8"/><text x="311" y="1317.7">2.外界浓度&gt;细胞质浓度</text></g>
<g id="d13"><rect x="261" y="1322" width="25" height="8"/><text x="264" y="1327.7">原生质层</text></g>
<g id="d131"><rect x="308" y="1322" width="57" height="8"/><text x="311" y="1327.7">细胞膜+液泡膜+细胞质</text></g>
<g id="d14"><rect x="261" y="1333" width="25" height="8"/><text x="264" y="1338.7">原生质体</text></g>
<g id="d141"><rect x="308" y="1333" width="84" height="8"/><text x="311" y="1338.7">即动物细胞，植物细胞除细胞壁部分</text></g>
<g id="d2"><rect x="223" y="1353" width="35" height="8"/><text x="226" y="1358.7">质壁分离实验</text></g>
<g id="d21"><rect x="280" y="1343" width="60" height="8"/><text x="283" y="1348.7">指原生质层与细胞壁的分离</text></g>
<g id="d22"><rect x="280" y="1358" width="25" height="8"/><text x="283" y="1363.7">实验选材</text></g>
<g id="d221"><rect x="327" y="1353" width="69" height="8"/><text x="330" y="1358.7">高浓度蔗糖会使细胞失水死亡</text></g>
<g id="d222"><rect x="327" y="1364" width="98" height="8"/><text x="330" y="1369.7">KNO3等溶液：先质壁分离后质壁分离复原</text></g>
<g id="d3"><rect x="223" y="1400" width="54" height="8"/><text x="226" y="1405.7">生物膜的流动镶嵌模型</text></g>
<g id="d31"><rect x="297" y="1374" width="73" height="8"/><text x="300" y="1379.7">磷脂双分子层构成膜的基本支架</text></g>
<g id="d32"><rect x="297" y="1384" width="64" height="8"/><text x="300" y="1389.7">蛋白质的镶嵌，嵌入，贯穿</text></g>
<g id="d33"><rect x="297" y="1395" width="96" height="8"/><text x="300" y="1400.7">1层生物膜=1层磷脂双分子层=2层磷脂分子</text></g>
<g id="d34"><rect x="298" y="1416" width="18" height="8"/><text x="301" y="1421.7">糖被</text></g>
<g id="d341"><rect x="338" y="1406" width="12" height="8"/><text x="341" y="1411.7">bp</text></g>
<g id="d3411"><rect x="368" y="1406" width="84" height="8"/><text x="371" y="1411.7">蛋白质与糖类结合而成，细胞膜外侧有</text></g>
<g id="d342"><rect x="338" y="1416" width="13" height="8"/><text x="341" y="1421.7">zA</text></g>
<g id="d3421"><rect x="368" y="1416" width="45" height="8"/><text x="371" y="1421.7">保护，润滑，识别</text></g>
<g id="d343"><rect x="338" y="1426" width="13" height="8"/><text x="341" y="1431.7">fW</text></g>
<g id="d3431"><rect x="368" y="1426" width="42" height="8"/><text x="371" y="1431.7">糖脂=糖类+脂质</text></g>
<g id="d4"><rect x="222" y="1478" width="45" height="8"/><text x="225" y="1483.7">物质跨膜运输方式</text></g>
<g id="d41"><rect x="289" y="1442" width="25" height="8"/><text x="292" y="1447.7">被动运输</text></g>
<g id="d411"><rect x="337" y="1436" width="25" height="8"/><text x="340" y="1441.7">自由扩散</text></g>
<g id="d4111"><rect x="383" y="1436" width="60" height="8"/><text x="386" y="1441.7">水，气体，脂溶性的物质</text></g>
<g id="d412"><rect x="337" y="1447" width="25" height="8"/><text x="340" y="1452.7">协助扩散</text></g>
<g id="d4121"><rect x="383" y="1447" width="108" height="8"/><text x="386" y="1452.7">葡萄糖进入红细胞，钠内流，钾外流，通道蛋白</text></g>
<g id="d42"><rect x="289" y="1458" width="25" height="8"/><text x="292" y="1463.7">主动运输</text></g>
<g id="d421"><rect x="337" y="1458" width="83" height="8"/><text x="340" y="1463.7">葡萄糖进入小肠绒毛上皮细胞，离子</text></g>
<g id="d43"><rect x="289" y="1468" width="16" height="8"/><text x="292" y="1473.7">胞吞</text></g>
<g id="d431"><rect x="327" y="1468" width="54" height="8"/><text x="330" y="1473.7">溶酶体自噬，吞噬细胞</text></g>
<g id="d44"><rect x="289" y="1478" width="16" height="8"/><text x="292" y="1483.7">胞吐</text></g>
<g id="d441"><rect x="327" y="1478" width="85" height="8"/><text x="330" y="1483.7">分泌蛋白（蛋白质激素），神经递质</text></g>
<g id="d45"><rect x="289" y="1499" width="25" height="8"/><text x="292" y="1504.7">影响因素</text></g>
<g id="d451"><rect x="337" y="1489" width="21" height="8"/><text x="340" y="1494.7">浓度差</text></g>
<g id="d452"><rect x="337" y="1500" width="16" height="8"/><text x="340" y="1505.7">能量</text></g>
<g id="d453"><rect x="337" y="1510" width="25" height="8"/><text x="340" y="1515.7">载体数量</text></g>
<g id="d46"><rect x="289" y="1520" width="9" height="8"/><text x="291.5" y="1525.7">z</text></g>
<g id="d5"><rect x="223" y="1583" width="11" height="8"/><text x="226" y="1588.7">酶</text></g>
<g id="d51"><rect x="255" y="1528" width="82" height="8"/><text x="258" y="1533.7">本质:大多数为蛋白质，少数为RNA</text></g>
<g id="d52"><rect x="255" y="1538" width="90" height="8"/><text x="258" y="1543.7">特性:高效性，专一性，作用条件温和性</text></g>
<g id="d53"><rect x="255" y="1554" width="45" height="8"/><text x="258" y="1559.7">影响酶活性的条件</text></g>
<g id="d531"><rect x="322" y="1549" width="16" height="8"/><text x="325" y="1554.7">温度</text></g>
<g id="d532"><rect x="322" y="1559" width="13" height="8"/><text x="325" y="1564.7">pH</text></g>
<g id="d54"><rect x="255" y="1569" width="86" height="8"/><text x="258" y="1574.7">注意:低温不会使酶永久失活但高温会</text></g>
<g id="d55"><rect x="255" y="1595" width="38" height="8"/><text x="258" y="1600.7">各环境中的pH</text></g>
<g id="d551"><rect x="314" y="1580" width="38" height="8"/><text x="317" y="1585.7">6.2~7.4：唾液</text></g>
<g id="d552"><rect x="314" y="1590" width="38" height="8"/><text x="317" y="1595.7">0.9~1.5：胃液</text></g>
<g id="d553"><rect x="314" y="1601" width="32" height="8"/><text x="317" y="1606.7">7.6：小肠液</text></g>
<g id="d554"><rect x="314" y="1611" width="42" height="8"/><text x="317" y="1616.7">7.35~7.45：血浆</text></g>
<g id="d56"><rect x="253" y="1621" width="176" height="16"/><text x="256" y="1627.3">细胞中每时每刻都在进行着许多化学反应，统称细胞代谢。细胞代谢的主要场所<tspan x="256" y="1633.8">是细胞质基质。</tspan></text></g>
<g id="d57"><rect x="255" y="1639" width="8" height="8"/><text x="257" y="1644.7">z</text></g>
<g id="d6"><rect x="222" y="1690" width="16" height="8"/><text x="225" y="1695.7">ATP</text></g>
<g id="d61"><rect x="256" y="1650" width="25" height="8"/><text x="259" y="1655.7">结构简式</text></g>
<g id="d611"><rect x="305" y="1650" width="27" height="8"/><text x="308" y="1655.7">A-P~P~P</text></g>
<g id="d6111"><rect x="350" y="1650" width="73" height="8"/><text x="353" y="1655.7">远离A的高能磷酸键水解时断裂</text></g>
<g id="d62"><rect x="256" y="1660" width="16" height="8"/><text x="259" y="1665.7">转化</text></g>
<g id="d621"><rect x="294" y="1660" width="50" height="8"/><text x="297" y="1665.7">补充（吸能反应）</text></g>
<g id="d63"><rect x="256" y="1681" width="12" height="8"/><text x="259" y="1686.7">az</text></g>
<g id="d631"><rect x="289" y="1671" width="25" height="8"/><text x="292" y="1676.7">需求量大</text></g>
<g id="d632"><rect x="289" y="1681" width="21" height="8"/><text x="292" y="1686.7">储量少</text></g>
<g id="d633"><rect x="289" y="1692" width="25" height="8"/><text x="292" y="1697.7">快速进行</text></g>
<g id="d64"><rect x="256" y="1712" width="25" height="8"/><text x="259" y="1717.7">产生场所</text></g>
<g id="d641"><rect x="308" y="1702" width="50" height="8"/><text x="311" y="1707.7">线粒体（有氧呼吸）</text></g>
<g id="d642"><rect x="308" y="1712" width="50" height="8"/><text x="311" y="1717.7">叶绿体（光合作用）</text></g>
<g id="d643"><rect x="308" y="1722" width="30" height="8"/><text x="311" y="1727.7">细胞质基质</text></g>
<g id="d65"><rect x="256" y="1733" width="25" height="8"/><text x="259" y="1738.7">主要来源</text></g>
<g id="d651"><rect x="308" y="1733" width="25" height="8"/><text x="311" y="1738.7">呼吸作用</text></g>
<g id="d7"><rect x="222" y="1781" width="25" height="8"/><text x="225" y="1786.7">细胞呼吸</text></g>
<g id="d71"><rect x="268" y="1744" width="26" height="8"/><text x="271" y="1749.7">主要场所</text></g>
<g id="d711"><rect x="315" y="1744" width="21" height="8"/><text x="318" y="1749.7">线粒体</text></g>
<g id="d7111"><rect x="357" y="1744" width="70" height="8"/><text x="360" y="1749.7">内膜折叠成嵴，加强有氧呼吸</text></g>
<g id="d72"><rect x="270" y="1786" width="13" height="8"/><text x="273" y="1791.7">zY</text></g>
<g id="d721"><rect x="301" y="1767" width="25" height="8"/><text x="304" y="1772.7">有氧呼吸</text></g>
<g id="d7211"><rect x="352" y="1757" width="25" height="8"/><text x="355" y="1762.7">第三阶段</text></g>
<g id="d7212"><rect x="352" y="1767" width="10" height="8"/><text x="354.5" y="1772.7">et</text></g>
<g id="d7213"><rect x="352" y="1777" width="11" height="8"/><text x="354.5" y="1782.7">ey</text></g>
<g id="d7214"><rect x="352" y="1786" width="11" height="8"/><text x="354.5" y="1791.7">ko</text></g>
<g id="d722"><rect x="301" y="1804" width="48" height="8"/><text x="304" y="1809.7">无氧呼吸（发酵）</text></g>
<g id="d7221"><rect x="372" y="1792" width="11" height="8"/><text x="374.5" y="1797.7">gv</text></g>
<g id="d7222"><rect x="372" y="1801" width="10" height="8"/><text x="374.5" y="1806.7">gt</text></g>
<g id="d7223"><rect x="372" y="1810" width="10" height="8"/><text x="374.5" y="1815.7">ly</text></g>
<g id="d7224"><rect x="372" y="1820" width="11" height="8"/><text x="374.5" y="1825.7">pk</text></g>
<g id="d8"><rect x="222" y="1895" width="25" height="8"/><text x="225" y="1900.7">光合作用</text></g>
<g id="d81"><rect x="270" y="1843" width="16" height="8"/><text x="273" y="1848.7">色素</text></g>
<g id="d811"><rect x="305" y="1828" width="25" height="8"/><text x="308" y="1833.7">胡萝卜素</text></g>
<g id="d8111"><rect x="352" y="1828" width="16" height="8"/><text x="355" y="1833.7">橙黄</text></g>
<g id="d812"><rect x="305" y="1838" width="21" height="8"/><text x="308" y="1843.7">叶黄素</text></g>
<g id="d8121"><rect x="348" y="1838" width="16" height="8"/><text x="351" y="1843.7">黄色</text></g>
<g id="d813"><rect x="305" y="1849" width="25" height="8"/><text x="308" y="1854.7">叶绿素a</text></g>
<g id="d8131"><rect x="350" y="1849" width="16" height="8"/><text x="353" y="1854.7">蓝绿</text></g>
<g id="d814"><rect x="305" y="1859" width="25" height="8"/><text x="308" y="1864.7">叶绿素b</text></g>
<g id="d8141"><rect x="350" y="1859" width="16" height="8"/><text x="353" y="1864.7">黄绿</text></g>
<g id="d82"><rect x="267" y="1885" width="21" height="8"/><text x="270" y="1890.7">叶绿体</text></g>
<g id="d821"><rect x="312" y="1870" width="12" height="8"/><text x="315" y="1875.7">cK</text></g>
<g id="d8211"><rect x="343" y="1870" width="25" height="8"/><text x="346" y="1875.7">叶肉细胞</text></g>
<g id="d822"><rect x="312" y="1890" width="12" height="8"/><text x="315" y="1895.7">zV</text></g>
<g id="d8221"><rect x="347" y="1880" width="30" height="8"/><text x="350" y="1885.7">外膜，内膜</text></g>
<g id="d8222"><rect x="347" y="1890" width="16" height="8"/><text x="350" y="1895.7">基质</text></g>
<g id="d8223"><rect x="347" y="1901" width="16" height="8"/><text x="350" y="1906.7">基粒</text></g>
<g id="d83"><rect x="270" y="1911" width="76" height="8"/><text x="273" y="1916.7">真光合作用=净光合作用+呼吸作用</text></g>
<g id="d84"><rect x="270" y="1932" width="50" height="8"/><text x="273" y="1937.7">影响光合作用的因素</text></g>
<g id="d841"><rect x="342" y="1922" width="26" height="8"/><text x="345" y="1927.7">CO2浓度</text></g>
<g id="d842"><rect x="342" y="1932" width="25" height="8"/><text x="345" y="1937.7">光照强度</text></g>
<g id="d843"><rect x="342" y="1943" width="16" height="8"/><text x="345" y="1948.7">温度</text></g>
<g id="d85"><rect x="270" y="1952" width="35" height="8"/><text x="273" y="1957.7">化能合成作用</text></g>
<g id="d851"><rect x="325" y="1952" width="85" height="8"/><text x="328" y="1957.7">硝化细菌（自养），铁细菌，硫细菌</text></g>
<g id="d86"><rect x="270" y="1963" width="11" height="8"/><text x="273" y="1968.7">ke</text></g>

<g id="e1"><rect x="193" y="2142" width="25" height="8"/><text x="196" y="2147.7">基本结构</text></g>
<g id="e11"><rect x="240" y="2007" width="21" height="8"/><text x="243" y="2012.7">细胞壁</text></g>
<g id="e111"><rect x="284" y="1987" width="13" height="8"/><text x="287" y="1992.7">zA</text></g>
<g id="e1111"><rect x="317" y="1987" width="30" height="8"/><text x="320" y="1992.7">支持，保护</text></g>
<g id="e112"><rect x="284" y="1997" width="21" height="8"/><text x="287" y="2002.7">全透性</text></g>
<g id="e113"><rect x="284" y="2008" width="16" height="8"/><text x="287" y="2013.7">植物</text></g>
<g id="e1131"><rect x="322" y="2008" width="34" height="8"/><text x="325" y="2013.7">纤维素+果胶</text></g>
<g id="e114"><rect x="284" y="2018" width="13" height="8"/><text x="287" y="2023.7">zW</text></g>
<g id="e1141"><rect x="318" y="2018" width="21" height="8"/><text x="321" y="2023.7">肽聚糖</text></g>
<g id="e115"><rect x="284" y="2028" width="11" height="8"/><text x="287" y="2033.7">fq</text></g>
<g id="e1151"><rect x="318" y="2028" width="21" height="8"/><text x="321" y="2033.7">几丁质</text></g>
<g id="e12"><rect x="240" y="2069" width="21" height="8"/><text x="243" y="2074.7">细胞膜</text></g>
<g id="e121"><rect x="284" y="2048" width="13" height="8"/><text x="287" y="2053.7">zG</text></g>
<g id="e1211"><rect x="318" y="2038" width="64" height="8"/><text x="321" y="2043.7">1.将细胞与外界环境分隔开</text></g>
<g id="e1212"><rect x="318" y="2048" width="50" height="8"/><text x="321" y="2053.7">2.控制物质进出细胞</text></g>
<g id="e1213"><rect x="318" y="2059" width="59" height="8"/><text x="321" y="2064.7">3.进行细胞间的信息交流</text></g>
<g id="e122"><rect x="284" y="2069" width="104" height="8"/><text x="287" y="2074.7">功能越复杂的细胞膜，蛋白质种类和数量越多</text></g>
<g id="e123"><rect x="284" y="2090" width="25" height="8"/><text x="287" y="2095.7">物质组成</text></g>
<g id="e1231"><rect x="333" y="2080" width="50" height="8"/><text x="336" y="2085.7">脂质（磷脂最丰富）</text></g>
<g id="e1232"><rect x="333" y="2090" width="10" height="8"/><text x="335.5" y="2095.7">M</text></g>
<g id="e1233"><rect x="333" y="2100" width="35" height="8"/><text x="336" y="2105.7">糖类（少量）</text></g>
<g id="e13"><rect x="240" y="2137" width="21" height="8"/><text x="243" y="2142.7">细胞核</text></g>
<g id="e131"><rect x="283" y="2110" width="112" height="8"/><text x="286" y="2115.7">高等植物成熟的筛管，哺乳动物成熟的红细胞没有</text></g>
<g id="e132"><rect x="283" y="2121" width="70" height="8"/><text x="286" y="2126.7">细胞核是遗传和代谢的控制中心</text></g>
<g id="e133"><rect x="283" y="2147" width="13" height="8"/><text x="286" y="2152.7">zV</text></g>
<g id="e1331"><rect x="320" y="2131" width="16" height="8"/><text x="323" y="2136.7">核膜</text></g>
<g id="e1332"><rect x="320" y="2141" width="16" height="8"/><text x="323" y="2146.7">核仁</text></g>
<g id="e1333"><rect x="320" y="2151" width="16" height="8"/><text x="323" y="2156.7">核孔</text></g>
<g id="e1334"><rect x="320" y="2162" width="21" height="8"/><text x="323" y="2167.7">染色质</text></g>
<g id="e14"><rect x="240" y="2214" width="21" height="8"/><text x="243" y="2219.7">细胞器</text></g>
<g id="e141"><rect x="283" y="2173" width="9" height="8"/><text x="285.5" y="2178.7">a</text></g>
<g id="e1411"><rect x="313" y="2173" width="16" height="8"/><text x="316" y="2178.7">分布</text></g>
<g id="e142"><rect x="283" y="2188" width="10" height="8"/><text x="285.5" y="2193.7">cr</text></g>
<g id="e1421"><rect x="313" y="2183" width="47" height="8"/><text x="316" y="2188.7">动植物细胞:线粒体</text></g>
<g id="e1422"><rect x="313" y="2193" width="92" height="8"/><text x="316" y="2198.7">植物细胞:绿色植物绿色部位:叶绿体</text></g>
<g id="e143"><rect x="283" y="2219" width="21" height="8"/><text x="286" y="2224.7">单层膜</text></g>
<g id="e1431"><rect x="325" y="2204" width="21" height="8"/><text x="328" y="2209.7">内质网</text></g>
<g id="e1432"><rect x="325" y="2214" width="25" height="8"/><text x="328" y="2219.7">高尔基体</text></g>
<g id="e1433"><rect x="325" y="2224" width="21" height="8"/><text x="328" y="2229.7">溶酶体</text></g>
<g id="e1434"><rect x="325" y="2235" width="16" height="8"/><text x="328" y="2240.7">液泡</text></g>
<g id="e144"><rect x="283" y="2251" width="16" height="8"/><text x="286" y="2256.7">无膜</text></g>
<g id="e1441"><rect x="322" y="2245" width="21" height="8"/><text x="325" y="2250.7">核糖体</text></g>
<g id="e1442"><rect x="322" y="2256" width="21" height="8"/><text x="325" y="2261.7">中心体</text></g>
<g id="e15"><rect x="240" y="2282" width="25" height="8"/><text x="243" y="2287.7">细胞骨架</text></g>
<g id="e151"><rect x="291" y="2267" width="10" height="8"/><text x="293.5" y="2272.7">zl</text></g>
<g id="e1511"><rect x="318" y="2267" width="70" height="8"/><text x="321" y="2272.7">由蛋白质纤维组成的网架结构</text></g>
<g id="e152"><rect x="291" y="2288" width="13" height="8"/><text x="294" y="2293.7">zA</text></g>
<g id="e1521"><rect x="320" y="2278" width="35" height="8"/><text x="323" y="2283.7">保持细胞形态</text></g>
<g id="e1522"><rect x="320" y="2288" width="59" height="8"/><text x="323" y="2293.7">保持细胞内部结构有序性</text></g>
<g id="e1523"><rect x="320" y="2299" width="59" height="8"/><text x="323" y="2304.7">与各种生命活动密切相关</text></g>
<g id="e2"><rect x="193" y="2328" width="11" height="8"/><text x="196" y="2333.7">有</text></g>
<g id="e21"><rect x="225" y="2318" width="16" height="8"/><text x="228" y="2323.7">真核</text></g>
<g id="e211"><rect x="263" y="2308" width="25" height="8"/><text x="266" y="2313.7">动物细胞</text></g>
<g id="e212"><rect x="263" y="2318" width="10" height="8"/><text x="265.5" y="2323.7">fx</text></g>
<g id="e213"><rect x="263" y="2328" width="11" height="8"/><text x="265.5" y="2333.7">ko</text></g>
<g id="e2131"><rect x="293" y="2328" width="75" height="8"/><text x="296" y="2333.7">酵母菌，霉菌，食用菌，青霉菌</text></g>
<g id="e22"><rect x="225" y="2338" width="78" height="8"/><text x="228" y="2343.7">有无以核膜为界限的细胞核：区别</text></g>
<g id="e23"><rect x="225" y="2348" width="16" height="8"/><text x="228" y="2353.7">原核</text></g>
<g id="e231"><rect x="262" y="2348" width="162" height="8"/><text x="265" y="2353.7">细菌，放线菌，衣原体，支原体，蓝藻（蓝球藻，念珠藻，颤藻，发菜）</text></g>
<g id="e3"><rect x="193" y="2370" width="11" height="8"/><text x="196" y="2375.7">无</text></g>
<g id="e31"><rect x="225" y="2370" width="12" height="8"/><text x="228" y="2375.7">zE</text></g>
<g id="e311"><rect x="258" y="2364" width="12" height="8"/><text x="261" y="2369.7">zY</text></g>
<g id="e3111"><rect x="294" y="2359" width="27" height="8"/><text x="297" y="2364.7">DNA病毒</text></g>
<g id="e3112"><rect x="294" y="2370" width="27" height="8"/><text x="297" y="2375.7">RNA病毒</text></g>
<g id="e312"><rect x="258" y="2381" width="25" height="8"/><text x="261" y="2386.7">增殖过程</text></g>
<g id="e3121"><rect x="305" y="2381" width="75" height="8"/><text x="308" y="2386.7">吸附，注入，合成，组装，释放</text></g>

<g id="f1"><rect x="200" y="2487" width="40" height="8"/><text x="203" y="2492.7">遗传因子的发现</text></g>
<g id="f11"><rect x="260" y="2451" width="70" height="8"/><text x="263" y="2456.7">孟德尔的豌豆杂交实验（一）</text></g>
<g id="f111"><rect x="355" y="2405" width="110" height="8"/><text x="358" y="2410.7">相对性状:一种生物的同一种性状的不同表现类型</text></g>
<g id="f112"><rect x="355" y="2416" width="103" height="8"/><text x="358" y="2421.7">豌豆:自花传粉，闭花授粉，自然状态下是纯种</text></g>
<g id="f113"><rect x="355" y="2426" width="114" height="8"/><text x="358" y="2431.7">授粉:①母本去雄②套袋隔离③人工授粉④套袋隔离</text></g>
<g id="f114"><rect x="355" y="2437" width="135" height="8"/><text x="358" y="2442.7">杂交实验结果:子二代出现性状分离且显隐性状数量比接近3:1</text></g>
<g id="f115"><rect x="355" y="2448" width="182" height="22"/><text x="358" y="2454.3">假说:(1)生物性状是由遗传因子决定的(核心内容) ②体细胞中，遗传因子是成对存<tspan x="358" y="2460.8">在的 ③生物体在形成生殖细胞，配子时成对的遗传因子彼此分离，分别进入不同</tspan><tspan x="358" y="2467.3">的配子中(本质) ④受精时，雌雄配子的结合是随机的</tspan></text></g>
<g id="f116"><rect x="355" y="2472" width="110" height="8"/><text x="358" y="2477.7">测交实验:F1与隐性纯合子杂交性状分离比接近1:1</text></g>
<g id="f117"><rect x="355" y="2482" width="182" height="22"/><text x="358" y="2488.3">结论:分离定律(在生物的体细胞中控制同一性状的遗传因子成对存在，不相融合；<tspan x="358" y="2494.8">在形成配子时，成对的遗传因子发生分离，分离后的遗传因子分别进入不同的配</tspan><tspan x="358" y="2501.3">子中随配子遗传给后代。)</tspan></text></g>
<g id="f12"><rect x="260" y="2537" width="70" height="8"/><text x="263" y="2542.7">孟德尔的豌豆杂交实验（二）</text></g>
<g id="f121"><rect x="355" y="2507" width="114" height="8"/><text x="358" y="2512.7">实验:纯黄圆豌豆×纯绿皱豌豆出现绿圆和黄皱豌豆</text></g>
<g id="f122"><rect x="355" y="2517" width="182" height="22"/><text x="358" y="2523.3">解释:①F1在形成配子时，每对遗传因子彼此分离，不同对的遗传因子可以自由组<tspan x="358" y="2529.8">合。②受精时，雌雄配子的结合是随机的 ③黄色圆粒，黄色皱粒，绿色圆粒，绿</tspan><tspan x="358" y="2536.3">色皱粒数量比是9:3:3:1</tspan></text></g>
<g id="f123"><rect x="355" y="2542" width="92" height="8"/><text x="358" y="2547.7">测交实验: YyRr×yyrr数量比为1:1:1:1</text></g>
<g id="f124"><rect x="355" y="2552" width="182" height="22"/><text x="358" y="2558.3">结论:自由组合定律(控制不同性状的遗传因子的分离和组合是互不干扰的；在形成<tspan x="358" y="2564.8">配子时，决定同一性状的成对的遗传因子彼此分离，决定不同性状的遗传因子自</tspan><tspan x="358" y="2571.3">由组合。)</tspan></text></g>
<g id="f2"><rect x="195" y="2648" width="50" height="8"/><text x="198" y="2653.7">基因与染色体的关系</text></g>
<g id="f21"><rect x="263" y="2608" width="12" height="8"/><text x="266" y="2613.7">al</text></g>
<g id="f211"><rect x="300" y="2576" width="176" height="16"/><text x="303" y="2582.3">减数分裂:进行有性生殖的生物，在产生成熟生殖细胞时，进行的染色体数目减半<tspan x="303" y="2588.8">的细胞分裂。</tspan></text></g>
<g id="f212"><rect x="300" y="2594" width="56" height="8"/><text x="303" y="2599.7">联会:同源染色体配对。</text></g>
<g id="f213"><rect x="300" y="2604" width="118" height="8"/><text x="303" y="2609.7">四分体:联会后的每对同源染色体含有四条染色单体。</text></g>
<g id="f214"><rect x="300" y="2614" width="172" height="22"/><text x="303" y="2620.3">受精作用:卵细胞和精子相互识别融合成为受精卵的过程（减数分裂和受精作用对<tspan x="303" y="2626.8">于维持每种生物前后代体细胞染色体数目的恒定，对于生物的遗传和变异都十</tspan><tspan x="303" y="2633.3">分重要的）</tspan></text></g>
<g id="f215"><rect x="300" y="2638" width="125" height="8"/><text x="303" y="2643.7">伴性遗传:基因位于性染色体上，在遗传上总是和性别相关联</text></g>
<g id="f22"><rect x="263" y="2659" width="16" height="8"/><text x="266" y="2664.7">假说</text></g>
<g id="f221"><rect x="298" y="2649" width="124" height="8"/><text x="301" y="2654.7">萨顿:类比推理:基因和染色体行为存在着明显的平行关系</text></g>
<g id="f222"><rect x="298" y="2659" width="78" height="8"/><text x="301" y="2664.7">摩尔根:假说演绎:基因位于染色体上</text></g>
<g id="f223"><rect x="298" y="2670" width="64" height="8"/><text x="301" y="2675.7">基因在染色体上呈线性排列</text></g>
<g id="f23"><rect x="263" y="2680" width="15" height="8"/><text x="266" y="2685.7">jow</text></g>
<g id="f24"><rect x="263" y="2705" width="25" height="8"/><text x="266" y="2710.7">伴性遗传</text></g>
<g id="f241"><rect x="307" y="2690" width="125" height="8"/><text x="310" y="2695.7">概念:基因位于性染色体上，性状在遗传上总是和性别相关联</text></g>
<g id="f242"><rect x="308" y="2710" width="13" height="8"/><text x="311" y="2715.7">zY</text></g>
<g id="f2421"><rect x="340" y="2700" width="130" height="8"/><text x="343" y="2705.7">伴X显性遗传病:女患者多于男患者，如：抗维生素D佝偻病</text></g>
<g id="f2422"><rect x="340" y="2711" width="128" height="8"/><text x="343" y="2716.7">伴X隐性遗传病:男患者多于女患者，如:红绿色盲，血友病</text></g>
<g id="f2423"><rect x="340" y="2721" width="104" height="8"/><text x="343" y="2726.7">伴Y遗传遗传病:都是男患者，如:外耳道多毛症</text></g>
<g id="f3"><rect x="195" y="2761" width="30" height="8"/><text x="198" y="2766.7">基因的本质</text></g>
<g id="f31"><rect x="243" y="2731" width="129" height="8"/><text x="246" y="2736.7">DNA是主要的遗传物质，绝大多数生物的遗传物质是DNA</text></g>
<g id="f32"><rect x="243" y="2756" width="47" height="8"/><text x="246" y="2761.7">DNA的双螺旋结构</text></g>
<g id="f321"><rect x="310" y="2742" width="176" height="16"/><text x="313" y="2748.3">DNA分子是以四种脱氧核苷酸为单位连接合成的长链，这四种脱氧核苷酸分别含<tspan x="313" y="2754.8">有ATCG四种碱基</tspan></text></g>
<g id="f322"><rect x="310" y="2759" width="144" height="8"/><text x="313" y="2764.7">磷酸-脱氧核糖交替连接在螺旋外层，碱基安排在螺旋内部的双链螺旋</text></g>
<g id="f323"><rect x="310" y="2769" width="150" height="8"/><text x="313" y="2774.7">腺嘌呤的量总是等于胸腺嘧啶的量，鸟嘌呤的量总是等于胞嘧啶的量</text></g>
<g id="f3231"><rect x="474" y="2769" width="126" height="8"/><text x="477" y="2774.7">碱基之间的这种一一对应的关系，叫做碱基互补配对原则</text></g>
<g id="f33"><rect x="243" y="2785" width="32" height="8"/><text x="246" y="2790.7">DNA的复制</text></g>
<g id="f331"><rect x="295" y="2780" width="124" height="8"/><text x="298" y="2785.7">特点:1.边解旋边复制；2.多起点同时进行；3.半保留复制</text></g>
<g id="f332"><rect x="295" y="2790" width="80" height="8"/><text x="298" y="2795.7">基本条件:模板，原料，能量和酶等</text></g>
<g id="f4"><rect x="195" y="2802" width="30" height="8"/><text x="198" y="2807.7">基因的表达</text></g>
<g id="f5"><rect x="195" y="2812" width="50" height="8"/><text x="198" y="2817.7">基因突变及其他变异</text></g>
<g id="f6"><rect x="195" y="2822" width="55" height="8"/><text x="198" y="2827.7">从杂交育种到基因工程</text></g>
<g id="f7"><rect x="195" y="2832" width="45" height="8"/><text x="198" y="2837.7">现代生物进化理论</text></g>
</g>
</svg>
